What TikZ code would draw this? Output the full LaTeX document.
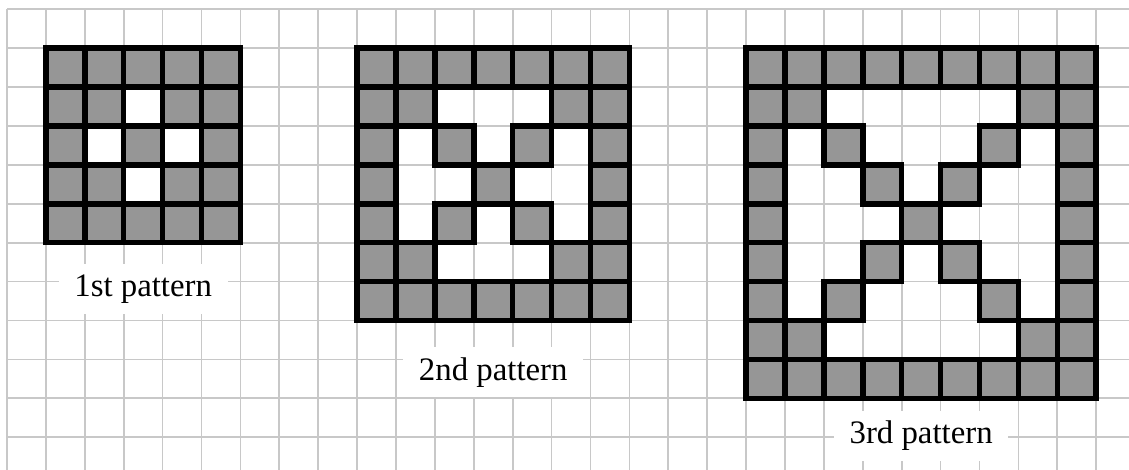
\documentclass[tikz,border=0pt]{standalone}
\usepackage{fontspec}
\setmainfont{Liberation Serif}
\definecolor{gridgray}{RGB}{200,200,200}
\definecolor{cellgray}{RGB}{150,150,150}
\tikzset{
  gridline/.style={draw=gridgray,line width=1.2pt},
  cellbox/.style={fill=cellgray,draw=black,line width=4pt,line join=miter},
  lbl/.style={fill=white,inner xsep=0.4cm,inner ysep=0pt,minimum height=1.28cm,
    font=\fontsize{24}{28}\selectfont,text=black}
}
\newcommand\gcell[2]{\path[cellbox] (#1,#2) rectangle ++(1,1);}
\newcommand\drawpattern[3]{%
  \pgfmathtruncatemacro\plast{#3-1}%
  \foreach \k in {0,...,\plast}{%
    \pgfmathtruncatemacro\rk{\plast-\k}%
    \gcell{#1+\k}{#2}
    \gcell{#1+\k}{#2+\plast}
    \gcell{#1}{#2+\k}
    \gcell{#1+\plast}{#2+\k}
    \gcell{#1+\k}{#2+\k}
    \gcell{#1+\k}{#2+\rk}
  }%
}
\begin{document}
\begin{tikzpicture}[y=-1cm,x=1cm]
\useasboundingbox (-0.18,-0.239) rectangle (28.843,11.843);
% grid
\foreach \i in {0,...,28}{\draw[gridline] (\i,0) -- (\i,11.843);}
\foreach \j in {0,...,11}{\draw[gridline] (0,\j) -- (28.843,\j);}
% patterns
\drawpattern{1}{1}{5}
\drawpattern{9}{1}{7}
\drawpattern{19}{1}{9}
% labels
\node[lbl] (l1) at (3.5,7.2) {1st pattern};
\node[lbl] (l2) at (12.5,9.33) {2nd pattern};
\node[lbl] (l3) at (23.5,10.97) {3rd pattern};
\end{tikzpicture}
\end{document}
